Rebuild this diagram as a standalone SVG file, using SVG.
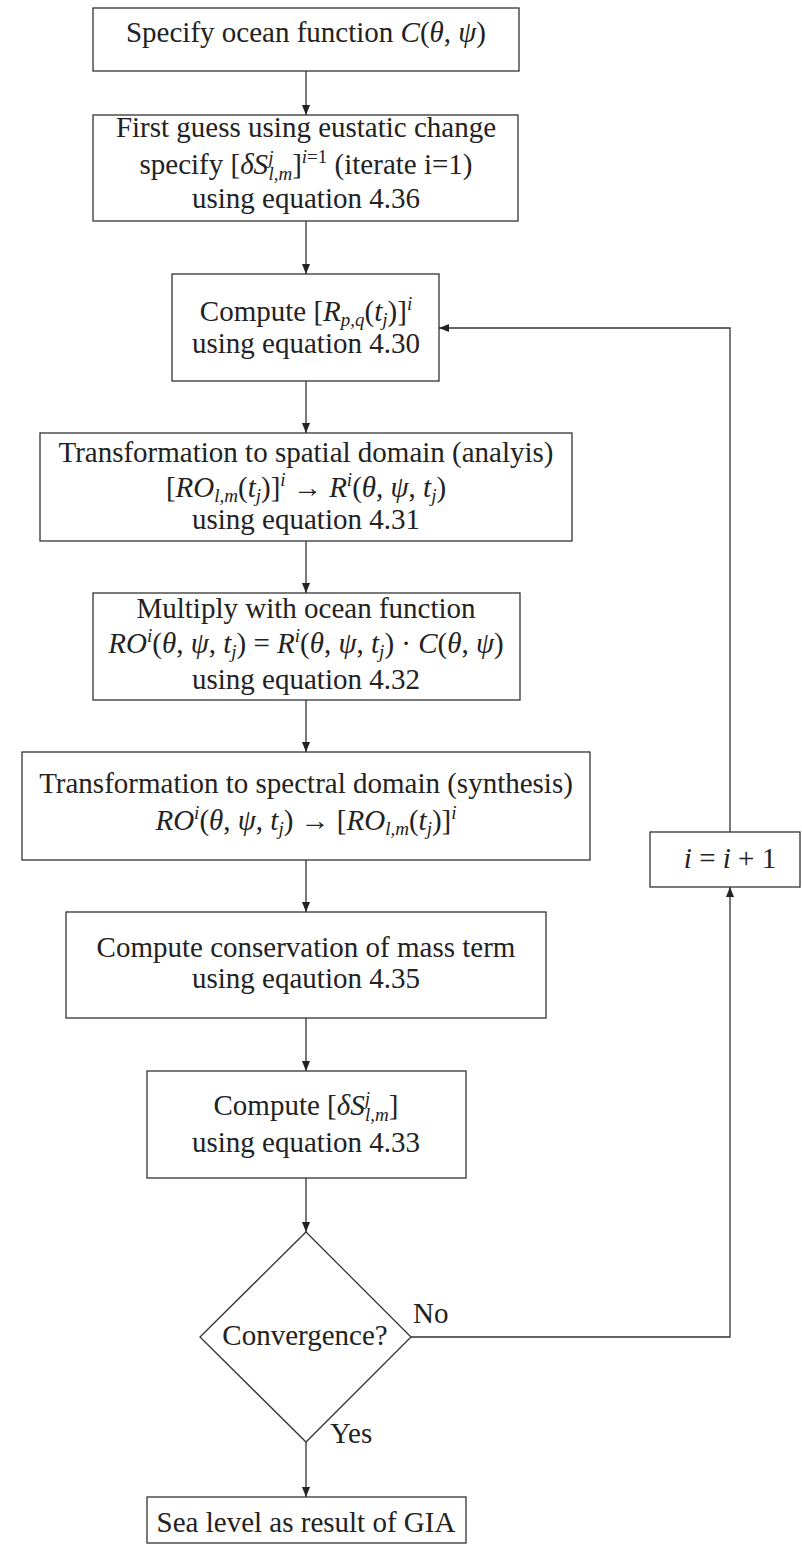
<svg xmlns="http://www.w3.org/2000/svg" width="802" height="1545" viewBox="0 0 802 1545">
<style>
.box{fill:#fff;stroke:#333;stroke-width:1.3}
.ln{fill:none;stroke:#333;stroke-width:1.3}
text{font-family:"Liberation Serif","DejaVu Serif",serif;font-size:29px;fill:#222;text-anchor:middle}
.m{font-style:italic}
.s{font-size:19px}
.lbl{text-anchor:start}
</style>
<defs>
<marker id="arr" markerUnits="userSpaceOnUse" markerWidth="10" markerHeight="8" refX="10" refY="4" orient="auto">
<path d="M0,0 L10,4 L0,8 z" fill="#222"/>
</marker>
</defs>
<rect width="802" height="1545" fill="#fff"/>
<g id="connectors">
<line class="ln" x1="306" y1="71" x2="306" y2="115" marker-end="url(#arr)"/>
<line class="ln" x1="306" y1="221" x2="306" y2="274" marker-end="url(#arr)"/>
<line class="ln" x1="306" y1="381" x2="306" y2="433" marker-end="url(#arr)"/>
<line class="ln" x1="306" y1="541" x2="306" y2="593" marker-end="url(#arr)"/>
<line class="ln" x1="306" y1="700" x2="306" y2="752" marker-end="url(#arr)"/>
<line class="ln" x1="306" y1="860" x2="306" y2="912" marker-end="url(#arr)"/>
<line class="ln" x1="306" y1="1018" x2="306" y2="1071" marker-end="url(#arr)"/>
<line class="ln" x1="306" y1="1178" x2="306" y2="1232" marker-end="url(#arr)"/>
<line class="ln" x1="306" y1="1442" x2="306" y2="1497" marker-end="url(#arr)"/>
<polyline class="ln" points="411,1337 730,1337 730,887" marker-end="url(#arr)"/>
<polyline class="ln" points="730,832 730,328 439,328" marker-end="url(#arr)"/>
<text class="lbl" x="413" y="1323">No</text>
<text class="lbl" x="330" y="1443">Yes</text>
</g>
<g id="n1">
<rect class="box" x="93" y="8" width="426" height="63"/>
<text x="306" y="42">Specify ocean function <tspan class="m">C</tspan>(<tspan class="m">θ</tspan>, <tspan class="m">ψ</tspan>)</text>
</g>
<g id="n2">
<rect class="box" x="93" y="115" width="425" height="106"/>
<text x="306" y="137">First guess using eustatic change</text>
<text x="306" y="174">specify [<tspan class="m">δS</tspan><tspan class="m s" dy="-10">j</tspan><tspan class="m s" dx="-5" dy="16">l,m</tspan><tspan dy="-6">]</tspan><tspan class="s" dy="-11"><tspan class="m">i</tspan>=1</tspan><tspan dy="11"> (iterate i=1)</tspan></text>
<text x="306" y="208">using equation 4.36</text>
</g>
<g id="n3">
<rect class="box" x="172" y="274" width="267" height="107"/>
<text x="306" y="321">Compute [<tspan class="m">R</tspan><tspan class="m s" dy="5">p,q</tspan><tspan dy="-5">(</tspan><tspan class="m">t</tspan><tspan class="m s" dy="5">j</tspan><tspan dy="-5">)]</tspan><tspan class="m s" dy="-11">i</tspan></text>
<text x="306" y="353">using equation 4.30</text>
</g>
<g id="n4">
<rect class="box" x="40" y="433" width="532" height="108"/>
<text x="306" y="462">Transformation to spatial domain (analyis)</text>
<text x="306" y="497">[<tspan class="m">RO</tspan><tspan class="m s" dy="5">l,m</tspan><tspan dy="-5">(</tspan><tspan class="m">t</tspan><tspan class="m s" dy="5">j</tspan><tspan dy="-5">)]</tspan><tspan class="m s" dy="-11">i</tspan><tspan dy="11"> → </tspan><tspan class="m">R</tspan><tspan class="m s" dy="-11">i</tspan><tspan dy="11">(</tspan><tspan class="m">θ</tspan>, <tspan class="m">ψ</tspan>, <tspan class="m">t</tspan><tspan class="m s" dy="5">j</tspan><tspan dy="-5">)</tspan></text>
<text x="306" y="529">using equation 4.31</text>
</g>
<g id="n5">
<rect class="box" x="93" y="593" width="427" height="107"/>
<text x="306" y="618">Multiply with ocean function</text>
<text x="306" y="653"><tspan class="m">RO</tspan><tspan class="m s" dy="-11">i</tspan><tspan dy="11">(</tspan><tspan class="m">θ</tspan>, <tspan class="m">ψ</tspan>, <tspan class="m">t</tspan><tspan class="m s" dy="5">j</tspan><tspan dy="-5">) = </tspan><tspan class="m">R</tspan><tspan class="m s" dy="-11">i</tspan><tspan dy="11">(</tspan><tspan class="m">θ</tspan>, <tspan class="m">ψ</tspan>, <tspan class="m">t</tspan><tspan class="m s" dy="5">j</tspan><tspan dy="-5">) · </tspan><tspan class="m">C</tspan>(<tspan class="m">θ</tspan>, <tspan class="m">ψ</tspan>)</text>
<text x="306" y="689">using equation 4.32</text>
</g>
<g id="n6">
<rect class="box" x="22" y="752" width="568" height="108"/>
<text x="306" y="793">Transformation to spectral domain (synthesis)</text>
<text x="306" y="830"><tspan class="m">RO</tspan><tspan class="m s" dy="-11">i</tspan><tspan dy="11">(</tspan><tspan class="m">θ</tspan>, <tspan class="m">ψ</tspan>, <tspan class="m">t</tspan><tspan class="m s" dy="5">j</tspan><tspan dy="-5">) → [</tspan><tspan class="m">RO</tspan><tspan class="m s" dy="5">l,m</tspan><tspan dy="-5">(</tspan><tspan class="m">t</tspan><tspan class="m s" dy="5">j</tspan><tspan dy="-5">)]</tspan><tspan class="m s" dy="-11">i</tspan></text>
</g>
<g id="n7">
<rect class="box" x="66" y="912" width="480" height="106"/>
<text x="306" y="957">Compute conservation of mass term</text>
<text x="306" y="988">using eqaution 4.35</text>
</g>
<g id="n8">
<rect class="box" x="147" y="1071" width="319" height="107"/>
<text x="306" y="1115">Compute [<tspan class="m">δS</tspan><tspan class="m s" dy="-10">j</tspan><tspan class="m s" dx="-5" dy="16">l,m</tspan><tspan dy="-6">]</tspan></text>
<text x="306" y="1152">using equation 4.33</text>
</g>
<g id="n9">
<polygon class="box" points="306,1232 411,1337 306,1442 200,1337"/>
<text x="305" y="1345">Convergence?</text>
</g>
<g id="n10">
<rect class="box" x="650" y="832" width="150" height="55"/>
<text x="730" y="868"><tspan class="m">i</tspan> = <tspan class="m">i</tspan> + 1</text>
</g>
<g id="n11">
<rect class="box" x="147" y="1497" width="319" height="46"/>
<text x="306" y="1532">Sea level as result of GIA</text>
</g>
</svg>
